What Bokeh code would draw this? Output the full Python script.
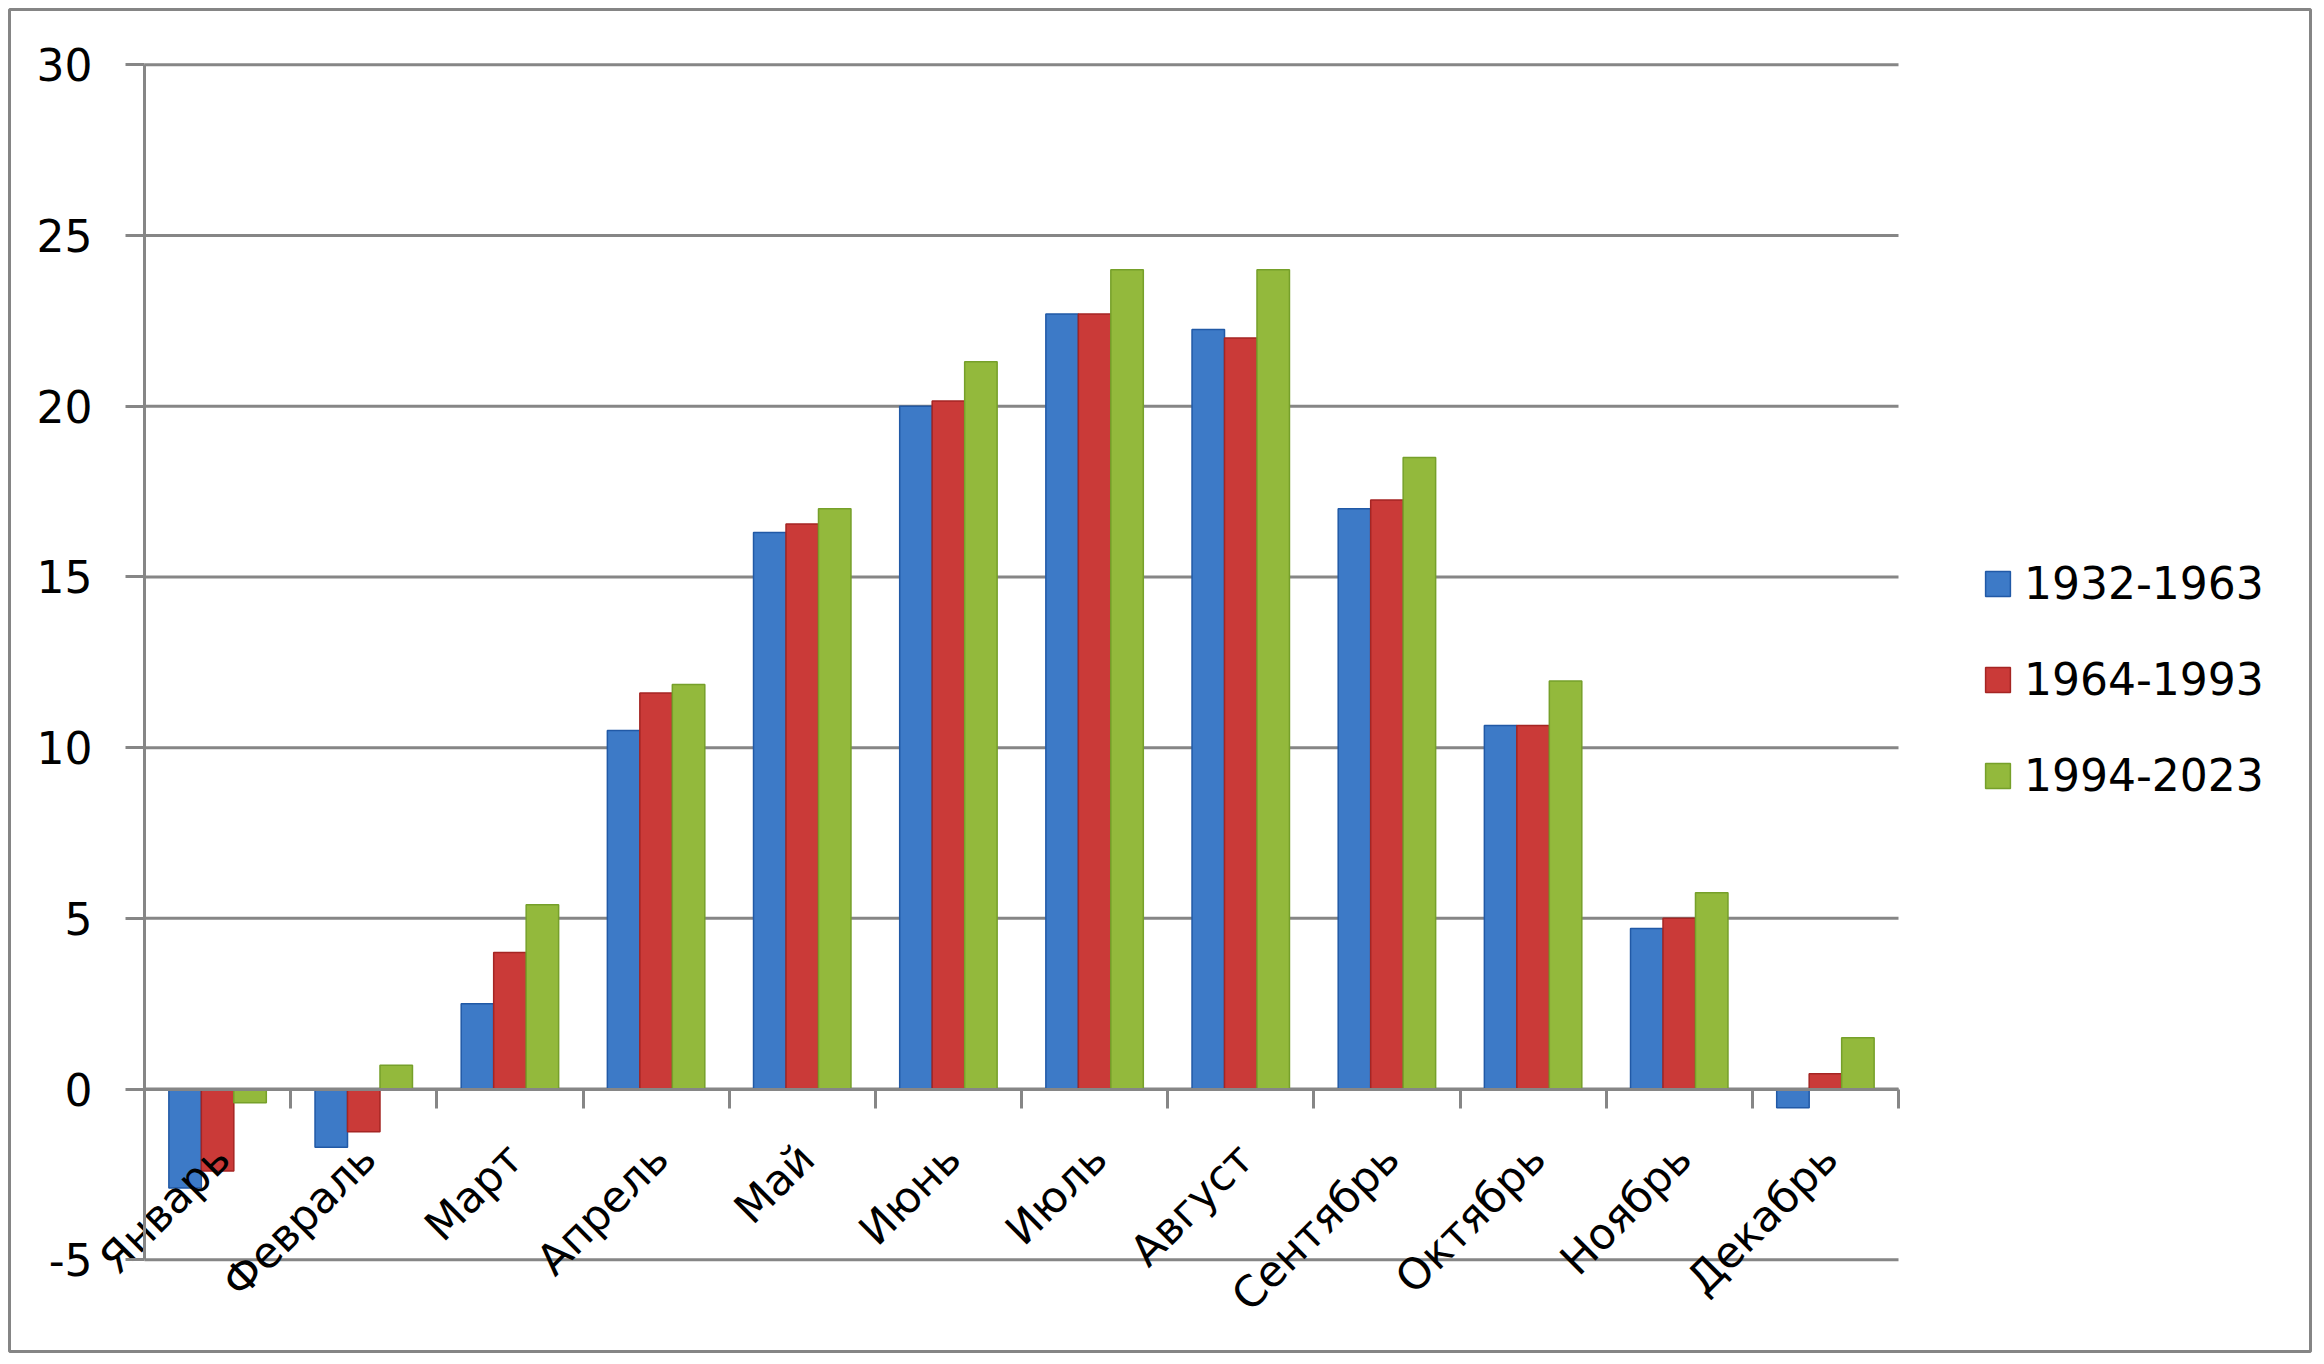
from math import pi
from bokeh.plotting import figure
from bokeh.models import (ColumnDataSource, Range1d, LinearAxis, FixedTicker,
                          Legend, LegendItem)
from bokeh.transform import dodge
from bokeh.embed import file_html
from bokeh.resources import INLINE

months = ["Январь", "Февраль", "Март", "Апрель", "Май", "Июнь", "Июль",
          "Август", "Сентябрь", "Октябрь", "Ноябрь", "Декабрь"]
series_names = ["1932-1963", "1964-1993", "1994-2023"]
s_1932_1963 = [-2.9, -1.7, 2.5, 10.5, 16.3, 20.0, 22.7, 22.25, 17.0, 10.65, 4.7, -0.55]
s_1964_1993 = [-2.4, -1.25, 4.0, 11.6, 16.55, 20.15, 22.7, 22.0, 17.25, 10.65, 5.0, 0.45]
s_1994_2023 = [-0.4, 0.7, 5.4, 11.85, 17.0, 21.3, 24.0, 24.0, 18.5, 11.95, 5.75, 1.5]
y_ticks = [-5, 0, 5, 10, 15, 20, 25, 30]

FONT = "DejaVu Sans"
FS = "44px"
GRAY = "#868686"
fills = ["#3D7AC7", "#CA3A38", "#93B93C"]
edges = ["#2159A6", "#A52523", "#76A02A"]

n = len(months)

# layout (pixels): chart-area border and plot-area placement
W, H = 2313, 1354
FL, FT, FR, FB = 9, 9, 2310, 1351          # frame = chart area (border)
PL, PR = 144, 1898                          # plot area left/right
PT, PB = 64.3, 1259.3                       # plot area top (y=30) / bottom (y=-5)
ux = (PR - PL) / n
uy = (PB - PT) / (y_ticks[-1] - y_ticks[0])
x_start = -(PL - FL) / ux
x_end = n + (FR - PR) / ux
y_end = y_ticks[-1] + (PT - FT) / uy
y_start = y_ticks[0] - (FB - PB) / uy

src = ColumnDataSource(dict(
    x=[i + 0.5 for i in range(n)],
    a=s_1932_1963, b=s_1964_1993, c=s_1994_2023,
))

p = figure(width=W, height=H, output_backend="svg", toolbar_location=None,
           x_range=Range1d(x_start, x_end), y_range=Range1d(y_start, y_end),
           min_border_left=FL, min_border_top=FT, min_border_bottom=H - FB,
           min_border_right=W - FR, x_axis_location=None, y_axis_location=None,
           outline_line_color="#858585", outline_line_width=3,
           background_fill_color="white", border_fill_color="white")
p.xgrid.visible = False
p.ygrid.visible = False

# horizontal gridlines across the plot area
p.segment(x0=[0] * len(y_ticks), x1=[n] * len(y_ticks), y0=y_ticks, y1=y_ticks,
          line_color=GRAY, line_width=3)

w = 1 / 4.5
renderers = []
for k, (col, off) in enumerate(zip(["a", "b", "c"], [-w, 0, w])):
    r = p.vbar(x=dodge("x", off, range=p.x_range), top=col, bottom=0, width=w,
               source=src, fill_color=fills[k], line_color=edges[k], line_width=1.5)
    renderers.append(r)

# y axis at x=0
yax = LinearAxis(ticker=FixedTicker(ticks=y_ticks), bounds=(y_ticks[0], y_ticks[-1]),
                 fixed_location=0)
yax.axis_line_color = GRAY
yax.axis_line_width = 3
yax.major_tick_line_color = GRAY
yax.major_tick_line_width = 3
yax.major_tick_out = 19
yax.major_tick_in = 0
yax.minor_tick_line_color = None
yax.major_label_standoff = 33
yax.major_label_text_font = FONT
yax.major_label_text_font_size = FS
yax.major_label_text_color = "black"
yax.major_label_overrides = {t: str(t) for t in y_ticks}
p.add_layout(yax, "left")

# category axis line at y=0 with ticks at category boundaries
xax = LinearAxis(ticker=FixedTicker(ticks=list(range(n + 1))), bounds=(0, n),
                 fixed_location=0)
xax.axis_line_color = GRAY
xax.axis_line_width = 3
xax.major_tick_line_color = GRAY
xax.major_tick_line_width = 3
xax.major_tick_out = 19
xax.major_tick_in = 0
xax.minor_tick_line_color = None
xax.major_label_text_font_size = "0px"
xax.major_label_text_alpha = 0
p.add_layout(xax, "below")

# category labels next to the zero line
label_shift = 0.03
lax = LinearAxis(ticker=FixedTicker(ticks=[i + 0.5 + label_shift for i in range(n)]),
                 fixed_location=0)
lax.axis_line_color = None
lax.major_tick_line_color = None
lax.minor_tick_line_color = None
lax.major_tick_out = 0
lax.major_tick_in = 0
lax.major_label_overrides = {i + 0.5 + label_shift: m for i, m in enumerate(months)}
lax.major_label_orientation = pi / 4
lax.major_label_standoff = 62
lax.major_label_text_font = FONT
lax.major_label_text_font_size = "43px"
lax.major_label_text_color = "black"
p.add_layout(lax, "below")

legend = Legend(items=[LegendItem(label=series_names[k], renderers=[renderers[k]])
                       for k in range(3)],
                location=(1982 - FL, 550), orientation="vertical")
legend.label_text_font = FONT
legend.label_text_font_size = FS
legend.label_text_color = "black"
legend.glyph_width = 31
legend.glyph_height = 31
legend.label_standoff = 11
legend.spacing = 45
legend.padding = 0
legend.margin = 0
legend.border_line_alpha = 0
legend.background_fill_alpha = 0
p.add_layout(legend)

open("out.html", "w").write(file_html(p, INLINE))
